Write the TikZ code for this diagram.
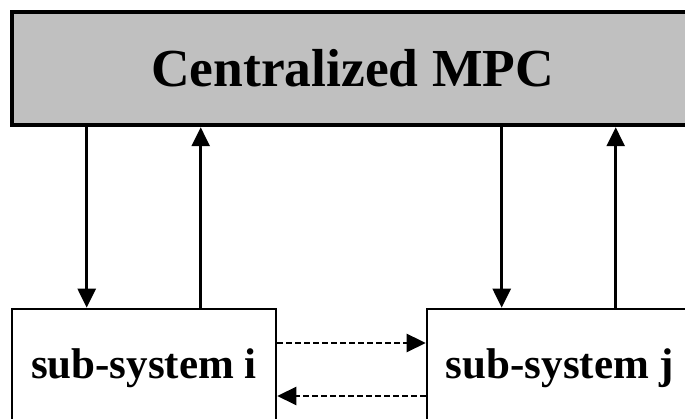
\documentclass[tikz,border=0pt]{standalone}
\usepackage{fontspec}
\setmainfont{Liberation Serif}
\usetikzlibrary{arrows.meta}
\definecolor{panelgray}{HTML}{C0C0C0}
\tikzset{
  x=1pt, y=1pt,
  mpcbox/.style={draw, line width=4.5pt, fill=panelgray, inner sep=0pt,
    minimum width=681pt, minimum height=113pt,
    font=\bfseries\fontsize{53.5}{60}\selectfont},
  subbox/.style={draw, line width=2.6pt, fill=white, inner sep=0pt,
    minimum height=118pt, font=\bfseries\fontsize{43}{50}\selectfont},
  link/.style={line width=2.5pt, -{Triangle[length=19pt,width=18pt]}},
  peer/.style={line width=2.6pt, dash pattern=on 6pt off 3pt,
    -{Triangle[length=19pt,width=18pt]}}
}
\begin{document}
\begin{tikzpicture}
\useasboundingbox (0,0) rectangle (685,419);
\clip (0,0) rectangle (685,419);

% central controller and the two sub-systems
\node[mpcbox] (mpc) at (352.5,350.5) {Centralized MPC};
\node[subbox, minimum width=264pt] (sysi) at (144,51) {sub-system i};
\node[subbox, minimum width=266pt] (sysj) at (560,51) {sub-system j};

% attachment points of the vertical links on each sub-system
\coordinate (di) at ([xshift=76pt]sysi.north west);
\coordinate (ui) at ([xshift=190pt]sysi.north west);
\coordinate (dj) at ([xshift=76pt]sysj.north west);
\coordinate (uj) at ([xshift=190pt]sysj.north west);

% controller <-> sub-system links
\draw[link] (di |- mpc.south) -- (di);
\draw[link] (ui) -- (ui |- mpc.south);
\draw[link] (dj |- mpc.south) -- (dj);
\draw[link] (uj) -- (uj |- mpc.south);

% information exchange between neighbouring sub-systems
\draw[peer] ([yshift=25pt]sysi.east) -- ([yshift=25pt]sysj.west);
\draw[peer] ([yshift=-28pt]sysj.west) -- ([yshift=-28pt]sysi.east);
\end{tikzpicture}
\end{document}
